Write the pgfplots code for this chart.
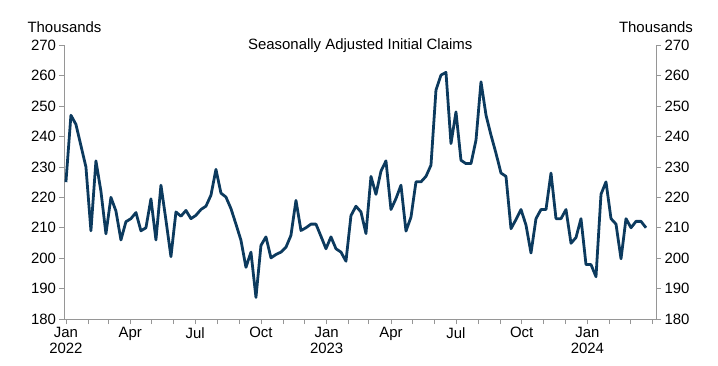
\documentclass[border=0pt]{standalone}
\usepackage{fontspec}
\setmainfont{Liberation Sans}
\usepackage{pgfplots}
\usepackage{pgfplotstable}
\pgfplotsset{compat=1.18}
\definecolor{navy}{RGB}{12,58,94}
\definecolor{axgray}{RGB}{150,150,150}

\pgfplotstableread{
day val
0 225
7 247
14 244
21 237
28 230
35 209
42 232
49 222
56 208
63 220
70 215.5
77 206
84 212
91 213
98 215
105 209
112 210
119 219.5
126 206
133 224
140 212.5
147 200.5
154 215.2
161 213.8
168 215.7
175 213
182 214.1
189 216
196 217.1
203 220.7
210 229.2
217 221.4
224 220.1
231 216.3
238 211.2
245 205.9
252 197
259 202
266 187.1
273 204.2
280 207
287 200.1
294 201.2
301 202
308 203.6
315 207.5
322 219
329 209.1
336 210
343 211.2
350 211.2
357 207.2
364 203.1
371 207
378 203.1
385 202
392 199
399 214
406 217.1
413 215.2
420 208.1
427 226.9
434 221
441 228.6
448 232
455 216
462 219.6
469 224
476 208.9
483 213.5
490 225.1
497 225.1
504 226.9
511 230.6
518 255.3
525 260.2
532 261.1
539 237.7
546 248.1
553 232.2
560 231.1
567 231.1
574 238.8
581 258
588 247.1
595 240.5
602 234.5
609 228
616 226.9
623 209.7
630 212.7
637 216
644 210.9
651 201.7
658 213
665 216
672 216
679 228
686 213
693 213
700 216
707 204.9
714 206.8
721 213
728 197.9
735 197.9
742 193.9
749 221
756 225.1
763 213
770 211.2
777 199.8
784 213
791 210
798 212.1
805 212.1
812 210
}\claims

\pgfplotsset{
  common/.style={
    at={(0,0)}, anchor=south west,
    scale only axis, width=591.5bp, height=273.7bp,
    xmin=-2, xmax=826, ymin=180, ymax=270,
    ytick={180,190,...,270},
    tick align=outside,
    major tick length=5bp, minor tick length=5bp,
    every tick/.style={axgray, line width=0.8pt},
    axis line style={axgray, line width=0.8pt},
    tick label style={font=\fontsize{15}{15}\selectfont, black},
    /pgf/number format/assume math mode=true,
  }
}

\begin{document}
\begin{tikzpicture}[x=1bp,y=1bp]
\useasboundingbox (-64.5bp,-47bp) rectangle (653.5bp,319bp);
\begin{axis}[common,
  axis x line*=bottom, axis y line*=left,
  xtick={0,90,181,273,365,455,546,638,730},
  xticklabels={{Jan\\2022},Apr,Jul,Oct,{Jan\\2023},Apr,Jul,Oct,{Jan\\2024}},
  xticklabel style={align=center, font=\fontsize{15}{15.5}\selectfont},
  minor xtick={31,59,120,151,212,243,304,334,396,424,485,516,577,608,669,699,761,790,821},
  clip=false,
]
\addplot[navy, line width=2.8pt, line join=round] table[x=day, y=val] {\claims};
\node[font=\fontsize{15}{15}\selectfont] at (rel axis cs:0.5,1) {Seasonally Adjusted Initial Claims};
\node[font=\fontsize{15}{15}\selectfont, anchor=base] at ([yshift=13bp]rel axis cs:0,1) {Thousands};
\node[font=\fontsize{15}{15}\selectfont, anchor=base] at ([yshift=13bp]rel axis cs:1,1) {Thousands};
\end{axis}
\begin{axis}[common,
  axis y line*=right, axis x line=none,
  xtick=\empty,
]
\addplot[draw=none] coordinates {(0,200)};
\end{axis}
\end{tikzpicture}
\end{document}
